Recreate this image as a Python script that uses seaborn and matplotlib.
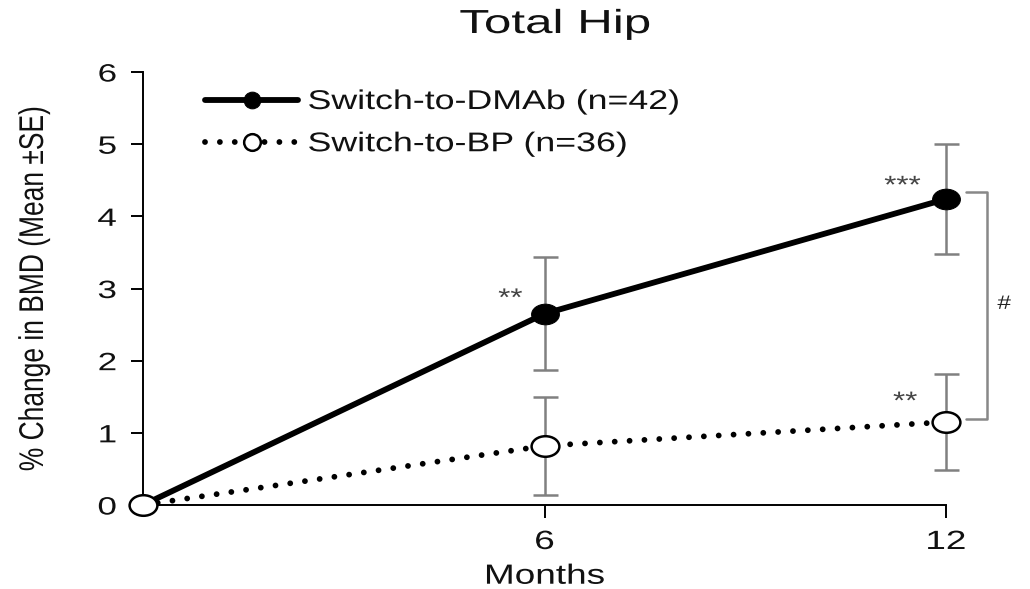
import matplotlib
matplotlib.use("Agg")
import matplotlib.pyplot as plt
import seaborn as sns
import pandas as pd
from matplotlib import patheffects as pe
from matplotlib.transforms import Affine2D
from matplotlib.path import Path

months = [0, 6, 12]
dmab_mean = [0.0, 2.65, 4.24]
dmab_se = [0.0, 0.78, 0.76]
bp_mean = [0.0, 0.82, 1.15]
bp_se = [0.0, 0.68, 0.66]
series_names = ["Switch-to-DMAb (n=42)", "Switch-to-BP (n=36)"]
x_ticks = [6, 12]
x_tick_labels = ["6", "12"]
y_ticks = [0, 1, 2, 3, 4, 5, 6]
title = "Total Hip"
x_label = "Months"
y_label = "% Change in BMD (Mean \u00b1SE)"


class Stretch(pe.AbstractPathEffect):
    """Widen glyphs (the reference text is drawn wide)."""
    def __init__(self, sx, anchor="center", sy=1.0):
        super().__init__()
        self.sx = sx
        self.sy = sy
        self.anchor = anchor

    def draw_path(self, renderer, gc, tpath, affine, rgbFace=None):
        ext = tpath.get_extents()
        if self.anchor == "left":
            cx = ext.x0
        elif self.anchor == "right":
            cx = ext.x1
        else:
            cx = (ext.x0 + ext.x1) / 2
        t = Affine2D().translate(-cx, 0).scale(self.sx, self.sy).translate(cx, 0) + affine
        renderer.draw_path(gc, tpath, t, rgbFace)


sns.set_theme(style="white")
plt.rcParams['font.family'] = ['Liberation Sans', 'DejaVu Sans']

df = pd.DataFrame({
    "Months": months * 2,
    "BMD": dmab_mean + bp_mean,
    "SE": dmab_se + bp_se,
    "Group": [series_names[0]] * 3 + [series_names[1]] * 3,
})

ellipse = Affine2D().scale(1.35, 1.0).transform_path(Path.unit_circle())

fig = plt.figure(figsize=(10.30, 5.89), dpi=100)
ax = fig.add_axes([143 / 1030, 1 - 505 / 589, (946 - 143) / 1030, (505 - 72) / 589])

for name in series_names:
    sub = df[df.Group == name]
    ax.errorbar(sub.Months[1:], sub.BMD[1:], yerr=sub.SE[1:], fmt="none",
                ecolor="#808080", elinewidth=1.8, capsize=9, capthick=1.8,
                zorder=2, clip_on=False)

sns.lineplot(data=df[df.Group == series_names[0]], x="Months", y="BMD", ax=ax,
             color="black", linewidth=4.2, marker=ellipse, markersize=20,
             markerfacecolor="black", markeredgecolor="black",
             label=series_names[0], zorder=3, clip_on=False)
sns.lineplot(data=df[df.Group == series_names[1]], x="Months", y="BMD", ax=ax,
             color="black", linewidth=4.2, linestyle=(0, (0.001, 2.55)),
             dash_capstyle="round", marker=ellipse, markersize=20,
             markerfacecolor="white", markeredgecolor="black", markeredgewidth=1.8,
             label=series_names[1], zorder=4, clip_on=False)

ax.set_xlim(0, 12)
ax.set_ylim(0, 6)
ax.set_xticks(x_ticks, labels=x_tick_labels)
ax.set_yticks(y_ticks, labels=[str(v) for v in y_ticks])
ax.tick_params(axis="both", which="both", direction="out", length=9, width=1.4,
               color="black", labelcolor="#111111", left=True, bottom=True)
ax.tick_params(axis="x", labelsize=19, pad=9)
ax.tick_params(axis="y", labelsize=18, pad=10)
for s in ["top", "right"]:
    ax.spines[s].set_visible(False)
for s in ["left", "bottom"]:
    ax.spines[s].set_color("black")
    ax.spines[s].set_linewidth(1.4)
for lbl in ax.get_xticklabels():
    lbl.set_path_effects([Stretch(1.4, "center")])
for lbl in ax.get_yticklabels():
    lbl.set_path_effects([Stretch(1.4, "right")])

ax.set_xlabel(x_label, fontsize=20, color="#111111", labelpad=7)
ax.xaxis.label.set_path_effects([Stretch(1.33, "center")])
ax.set_ylabel(y_label, fontsize=19, color="#111111")
ax.yaxis.set_label_coords(-95 / 803, 0.5)
ax.yaxis.label.set_path_effects([Stretch(1.0, "center", sy=1.3)])

fig.text(555 / 1030, 1 - 33 / 589, title, fontsize=24, ha="center", va="baseline",
         color="#111111", path_effects=[Stretch(1.48, "center")])

leg = ax.legend(loc="upper left", bbox_to_anchor=(205 / 1030, 1 - 89 / 589),
                bbox_transform=fig.transFigure, frameon=False, fontsize=19.5,
                handlelength=3.45, handletextpad=0.35, labelspacing=0.6,
                borderpad=0, borderaxespad=0)
for t in leg.get_texts():
    t.set_color("#111111")
    t.set_path_effects([Stretch(1.32, "left")])
for h in leg.legend_handles:
    h.set_marker("o")
    h.set_markersize(12)

star_pe = [Stretch(1.25, "center")]
ax.text(5.49, 2.86, "**", fontsize=18, ha="center", va="center", color="#444444",
        path_effects=star_pe)
ax.text(11.35, 4.42, "***", fontsize=18, ha="center", va="center", color="#444444",
        path_effects=star_pe)
ax.text(11.39, 1.43, "**", fontsize=18, ha="center", va="center", color="#444444",
        path_effects=star_pe)

bx0, bx1 = 12.30, 12.62
ax.plot([bx0, bx1, bx1, bx0], [dmab_mean[2] + 0.1, dmab_mean[2] + 0.1,
                               bp_mean[2] + 0.04, bp_mean[2] + 0.04],
        color="#888888", linewidth=1.8, clip_on=False, zorder=2)
ax.text(12.87, 2.78, "#", fontsize=14, ha="center", va="center", color="#222222",
        path_effects=[Stretch(1.25, "center")])

fig.savefig("out.png", dpi=100)
